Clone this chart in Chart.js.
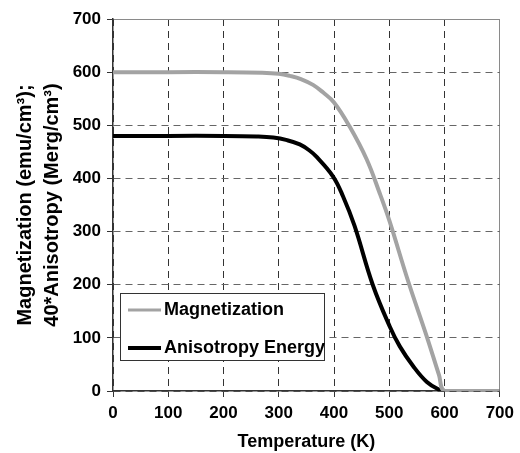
<!DOCTYPE html>
<html><head><meta charset="utf-8">
<script src="https://cdn.jsdelivr.net/npm/chart.js@4/dist/chart.umd.min.js"></script>
<style>html,body{margin:0;padding:0;background:#fff}#wrap{width:520px;height:453px}</style>
</head><body><div id="wrap"><canvas id="c" width="520" height="453"></canvas></div>
<script>
const magT = [0, 100, 200, 270, 300, 320, 340, 362, 380, 400, 428, 459, 482, 500, 534, 568, 590, 600, 650, 700];
const magV = [600, 600, 600, 599, 597, 593, 587, 576, 562, 543, 498, 436, 374, 321, 207, 102, 30, 0, 0, 0];
const aniT = [0, 100, 200, 260, 290, 315, 338, 355, 369, 398, 416, 437, 470, 501, 519, 543, 568, 591, 600, 650, 700];
const aniV = [480, 480, 480, 479, 477, 472, 464, 453, 440, 404, 367, 311, 200, 121, 84, 47, 17, 2, 0, 0, 0];
const xTicks = [0, 100, 200, 300, 400, 500, 600, 700];
const yTicks = [0, 100, 200, 300, 400, 500, 600, 700];
const seriesLabels = ['Magnetization', 'Anisotropy Energy'];
const xTitle = 'Temperature (K)';
const yTitle = ['Magnetization (emu/cm\u00B3);', '40*Anisotropy (Merg/cm\u00B3)'];

const FONT = "'Liberation Sans', Arial, sans-serif";

const legendPlugin = {
  id: 'boxLegend',
  afterDraw(chart) {
    const ctx = chart.ctx, a = chart.chartArea;
    const bx = a.left + 7, by = a.top + 274, bw = 204, bh = 67;
    ctx.save();
    ctx.fillStyle = '#fff';
    ctx.fillRect(bx, by, bw, bh);
    ctx.strokeStyle = '#333';
    ctx.lineWidth = 1;
    ctx.strokeRect(bx + 0.5, by + 0.5, bw, bh);
    chart.data.datasets.forEach((ds, i) => {
      const cy = by + 17 + i * 38;
      ctx.beginPath();
      ctx.strokeStyle = ds.borderColor;
      ctx.lineWidth = i === 0 ? 3 : ds.borderWidth;
      ctx.moveTo(bx + 8, cy);
      ctx.lineTo(bx + 41, cy);
      ctx.stroke();
      ctx.fillStyle = '#000';
      ctx.font = "bold 18px " + FONT;
      ctx.textBaseline = 'middle';
      ctx.textAlign = 'left';
      ctx.fillText(ds.label, bx + 44, cy);
    });
    ctx.restore();
  }
};

new Chart(document.getElementById('c'), {
  type: 'scatter',
  data: {
    datasets: [
      { label: seriesLabels[0], data: magT.map((t, i) => ({x: t, y: magV[i]})),
        showLine: true, borderColor: '#a3a3a3', borderWidth: 4, pointRadius: 0,
        tension: 0.4 },
      { label: seriesLabels[1], data: aniT.map((t, i) => ({x: t, y: aniV[i]})),
        showLine: true, borderColor: '#000', borderWidth: 4, pointRadius: 0,
        tension: 0.4 }
    ]
  },
  options: {
    responsive: false,
    devicePixelRatio: 1,
    animation: false,
    layout: { padding: { top: 19, right: 20, left: 12, bottom: 0 } },
    plugins: { legend: { display: false }, tooltip: { enabled: false } },
    scales: {
      x: {
        type: 'linear', min: 0, max: 700,
        afterBuildTicks: s => { s.ticks = xTicks.map(v => ({value: v})); },
        afterFit: s => { s.height = 62; },
        ticks: { color: '#000', font: { family: FONT, size: 17, weight: 'bold' }, padding: 6, maxRotation: 0 },
        grid: {
          color: c => (c.tick && c.tick.value === 700) ? '#8a8a8a' : '#333',
          tickColor: '#333', lineWidth: 1, tickLength: 6
        },
        border: { display: true, color: '#333', width: 1.5,
          dash: c => (c.tick && c.tick.value === 700) ? [] : [7, 5] },
        title: { display: true, text: xTitle, color: '#000', padding: 0,
          font: { family: FONT, size: 18, weight: 'bold' } }
      },
      y: {
        type: 'linear', min: 0, max: 700,
        afterBuildTicks: s => { s.ticks = yTicks.map(v => ({value: v})); },
        afterFit: s => { s.width = 101; },
        ticks: { color: '#000', font: { family: FONT, size: 17, weight: 'bold' }, padding: 6 },
        grid: {
          color: c => (c.tick && c.tick.value === 700) ? '#8a8a8a' : '#666',
          tickColor: '#333', lineWidth: 1, tickLength: 6
        },
        border: { display: true, color: '#333', width: 1.5,
          dash: c => (c.tick && c.tick.value === 700) ? [] : [7, 5] },
        title: { display: true, text: yTitle, color: '#000', padding: 0,
          font: { family: FONT, size: 20, weight: 'bold', lineHeight: 1.35 } }
      }
    }
  },
  plugins: [legendPlugin]
});
</script>
</body></html>
